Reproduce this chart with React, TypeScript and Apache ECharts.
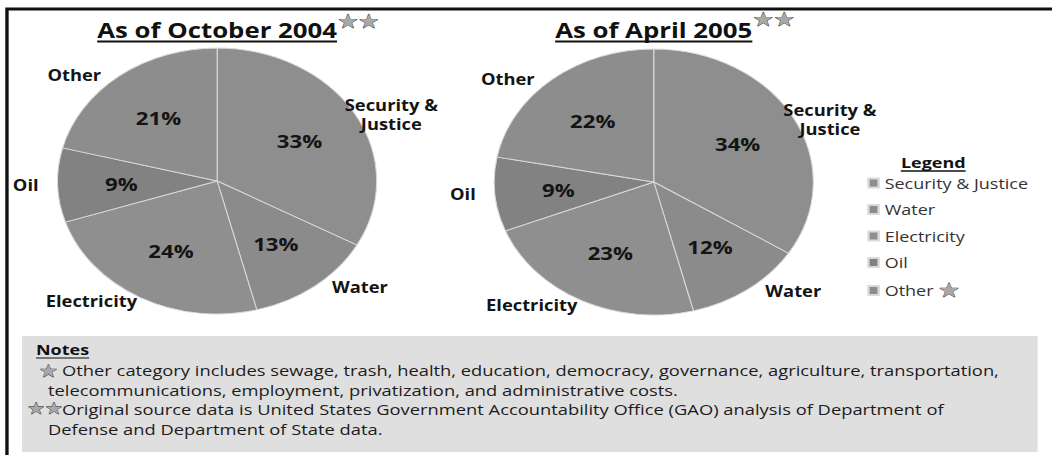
import React, { useEffect, useRef } from "react";
import * as echarts from "echarts";

// ---------- data ----------
const categories = ["Security & Justice", "Water", "Electricity", "Oil", "Other"];
const values2004 = [33, 13, 24, 9, 21];
const values2005 = [34, 12, 23, 9, 22];
const titles = ["As of October 2004", "As of April 2005"];
const legendTitle = "Legend";
const notesTitle = "Notes";
const noteLines = [
  "Other category includes sewage, trash, health, education, democracy, governance, agriculture, transportation,",
  "telecommunications, employment, privatization, and administrative costs.",
  "Original source data is United States Government Accountability Office (GAO) analysis of Department of",
  "Defense and Department of State data.",
];

// ---------- layout / style ----------
const W = 877;
const H = 455;
const SX = 1052 / W;
const FONT = '"Open Sans", sans-serif';
const sliceColors = ["#8e8e8e", "#8b8b8b", "#8f8f8f", "#828282", "#8d8d8d"];
const R = 133;
const pies = [
  { values: values2004, cx: 181, cy: 181, title: titles[0] },
  { values: values2005, cx: 545, cy: 182, title: titles[1] },
];

function midAngles(values: number[]) {
  const total = values.reduce((a, b) => a + b, 0);
  let acc = 0;
  return values.map((v) => {
    const m = ((acc + v / 2) / total) * 360;
    acc += v;
    return m;
  });
}

function measure(text: string, font: string) {
  const ctx = document.createElement("canvas").getContext("2d")!;
  ctx.font = font;
  return ctx.measureText(text).width;
}

function stars(x: number, y: number, size: number, text: string, align = "center") {
  return {
    type: "text",
    silent: true,
    x,
    y,
    style: {
      text,
      fontSize: size,
      fontFamily: "DejaVu Sans",
      fill: "#a8a8a8",
      stroke: "#3a3a3a",
      lineWidth: 0.8,
      align,
      textAlign: align,
      verticalAlign: "middle",
      textVerticalAlign: "middle",
    },
  };
}

function textEl(x: number, y: number, text: string, opts: any = {}) {
  const align = opts.align || "left";
  return {
    type: "text",
    x,
    y,
    silent: true,
    style: {
      text,
      fontFamily: FONT,
      fontSize: opts.fontSize || 15,
      fontWeight: opts.fontWeight || "normal",
      fill: opts.fill || "#1c1c1c",
      align,
      textAlign: align,
      verticalAlign: "middle",
      textVerticalAlign: "middle",
    },
  };
}

export default function App() {
  const ref = useRef<HTMLDivElement>(null);

  useEffect(() => {
    if (!ref.current) return;
    const chart = echarts.init(ref.current, null, { renderer: "svg" });

    const series: any[] = [];
    pies.forEach((p) => {
      const mids = midAngles(p.values);
      const data = categories.map((name, i) => ({
        name,
        value: p.values[i],
        itemStyle: { color: sliceColors[i] },
      }));
      // visible slices with percentage labels
      series.push({
        type: "pie",
        center: [p.cx, p.cy],
        radius: R,
        startAngle: 90,
        clockwise: true,
        avoidLabelOverlap: false,
        silent: true,
        itemStyle: { borderColor: "#d9d9d9", borderWidth: 0.9 },
        label: {
          show: true,
          position: "inside",
          formatter: "{c}%",
          fontFamily: FONT,
          fontSize: 18.5,
          fontWeight: "bold",
          color: "#141414",
        },
        labelLine: { show: false },
        labelLayout: (lp: any) => {
          const a = (mids[lp.dataIndex] * Math.PI) / 180;
          return {
            x: p.cx + 0.6 * R * Math.sin(a),
            y: p.cy - 0.6 * R * Math.cos(a),
            align: "center",
            verticalAlign: "middle",
          };
        },
        data,
      });
      // category name labels
      series.push({
        type: "pie",
        center: [p.cx, p.cy],
        radius: R,
        startAngle: 90,
        clockwise: true,
        avoidLabelOverlap: false,
        silent: true,
        itemStyle: { color: "transparent", borderWidth: 0 },
        label: {
          show: true,
          position: "outside",
          formatter: (lp: any) =>
            lp.name === "Security & Justice" ? "Security &\nJustice" : lp.name,
          fontFamily: FONT,
          fontSize: 15.3,
          fontWeight: "bold",
          color: "#141414",
          lineHeight: 19,
          align: "center",
        },
        labelLine: { show: false },
        labelLayout: (lp: any) => {
          const m = mids[lp.dataIndex];
          const c = m < 180 ? 90 + 0.8 * (m - 90) : 270 + 0.8 * (m - 270);
          const a = (c * Math.PI) / 180;
          return {
            x: p.cx + 1.2 * R * Math.sin(a),
            y: p.cy - 1.2 * R * Math.cos(a),
            align: "center",
            verticalAlign: "middle",
          };
        },
        data: categories.map((name, i) => ({ name, value: p.values[i] })),
      });
    });

    const elements: any[] = [];
    // outer frame
    elements.push({
      type: "rect",
      silent: true,
      shape: { x: 5.8, y: 9, width: 940, height: 480 },
      style: { fill: "none", stroke: "#111", lineWidth: 2.8 },
    });
    // notes box
    elements.push({
      type: "rect",
      silent: true,
      shape: { x: 18.3, y: 336, width: 846.7, height: 116 },
      style: { fill: "#dfdfdf" },
    });
    // titles
    pies.forEach((p, i) => {
      const w = measure(p.title, `bold 21.5px ${FONT}`);
      elements.push(textEl(p.cx, 30, p.title, { align: "center", fontSize: 21.5, fontWeight: "bold", fill: "#111" }));
      elements.push({
        type: "line",
        silent: true,
        shape: { x1: p.cx - w / 2, y1: 41.5, x2: p.cx + w / 2, y2: 41.5 },
        style: { stroke: "#111", lineWidth: 2 },
      });
      elements.push(stars(p.cx + w / 2 + 0.3, i === 0 ? 21 : 19, 19.5, "★★", "left"));
    });
    // legend title
    const lw = measure(legendTitle, `bold 15px ${FONT}`);
    elements.push(textEl(778, 162, legendTitle, { align: "center", fontSize: 15, fontWeight: "bold", fill: "#111" }));
    elements.push({
      type: "line",
      silent: true,
      shape: { x1: 778 - lw / 2, y1: 171, x2: 778 + lw / 2, y2: 171 },
      style: { stroke: "#111", lineWidth: 1.3 },
    });
    // notes
    const nw = measure(notesTitle, `bold 15px ${FONT}`);
    elements.push(textEl(30, 349.5, notesTitle, { fontSize: 15, fontWeight: "bold", fill: "#111" }));
    elements.push({
      type: "line",
      silent: true,
      shape: { x1: 30, y1: 358, x2: 30 + nw, y2: 358 },
      style: { stroke: "#111", lineWidth: 1.2 },
    });
    const lineY = [370, 390, 409.5, 429];
    const lineX = [51.7, 40, 51.7, 40];
    noteLines.forEach((t, i) => {
      elements.push(textEl(lineX[i], lineY[i], t, { fontSize: 15.3, fill: "#1c1c1c" }));
    });
    elements.push(stars(40.4, 371, 17.5, "★"));
    elements.push(stars(37.5, 408.5, 16.5, "★★"));

    chart.setOption({
      animation: false,
      backgroundColor: "#ffffff",
      legend: {
        orient: "vertical",
        left: 723,
        top: 174,
        padding: 0,
        icon: "rect",
        itemWidth: 8.5,
        itemHeight: 9,
        itemGap: 8.5,
        selectedMode: false,
        data: categories,
        formatter: (n: string) => (n === "Other" ? "Other {s|★}" : n),
        textStyle: {
          fontFamily: FONT,
          fontSize: 15,
          color: "#333",
          lineHeight: 18,
          rich: {
            s: {
              fontFamily: "DejaVu Sans",
              fontSize: 20,
              lineHeight: 18,
              color: "#a8a8a8",
              textBorderColor: "#3a3a3a",
              textBorderWidth: 0.8,
            },
          },
        },
      },
      series,
      graphic: { elements },
    });

    return () => chart.dispose();
  }, []);

  return (
    <div
      ref={ref}
      style={{
        position: "fixed",
        left: 0,
        top: 0,
        width: W,
        height: H,
        transform: `scaleX(${SX})`,
        transformOrigin: "0 0",
        background: "#fff",
      }}
    />
  );
}
